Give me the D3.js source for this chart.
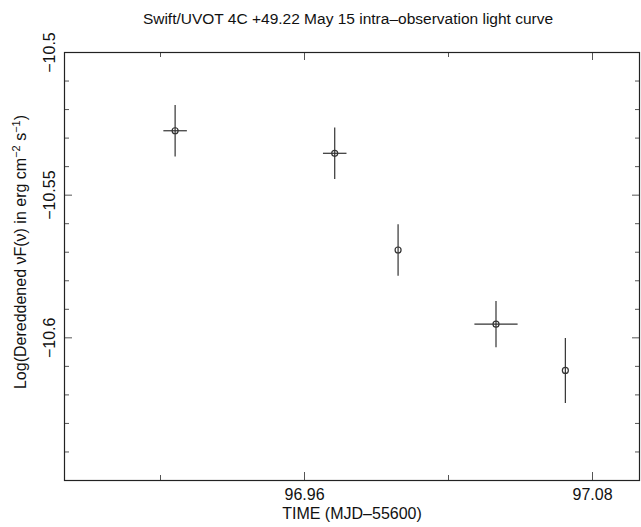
<!DOCTYPE html>
<html>
<head>
<meta charset="utf-8">
<script src="https://cdn.jsdelivr.net/npm/d3@7/dist/d3.min.js"></script>
<style>
  body { margin: 0; background: #fff; }
  svg { display: block; font-family: "Liberation Sans", Arial, sans-serif; }
  .axis path { display: none; }
  .axis line { stroke: #555; }
  .axis text { font-size: 16px; fill: #111; }
</style>
</head>
<body>
<svg id="chart" width="641" height="527"></svg>
<script>
// data
const times    = [96.9063, 96.9728, 96.9992, 97.0400, 97.0689];
const timeErr  = [0.0049, 0.0049, 0.0, 0.0090, 0.0];
const fluxes   = [-10.5276, -10.5355, -10.5694, -10.5954, -10.6116];
const fluxErr  = [0.0090, 0.0090, 0.0090, 0.0081, 0.0114];

const xMajorTicks = [96.96, 97.08];
const xMinorTicks = [96.90, 97.02];
const yMajorTicks = [-10.5, -10.55, -10.6];
const yMinorTicks = [-10.51, -10.52, -10.53, -10.54, -10.56, -10.57, -10.58, -10.59,
                     -10.61, -10.62, -10.63, -10.64];

const titleText = "Swift/UVOT 4C +49.22 May 15 intra\u2013observation light curve";
const xTitle = "TIME (MJD\u201355600)";

//----------------------------------------------------------------------------------------------------------------------
// dimensions
//----------------------------------------------------------------------------------------------------------------------
const svg = d3.select("#chart");
const margin = {top: 52, left: 64, right: 1, bottom: 47};
const width = 641, height = 527;
const plotW = width - margin.left - margin.right,
      plotH = height - margin.top - margin.bottom;

const x = d3.scaleLinear().domain([96.86, 97.10]).range([margin.left, margin.left + plotW]);
const y = d3.scaleLinear().domain([-10.65, -10.5]).range([margin.top + plotH, margin.top]);

const fmt = d => String(d).replace("-", "\u2212");

// axes: ticks point inward, on all four sides
function addAxis(axisFn, scale, ticks, size, tx, ty, labels, pad) {
    const a = axisFn(scale).tickValues(ticks).tickSizeInner(-size).tickSizeOuter(0);
    if (labels) a.tickFormat(fmt).tickPadding(pad); else a.tickFormat("");
    return svg.append("g")
        .attr("class", "axis")
        .attr("transform", "translate(" + tx + "," + ty + ")")
        .call(a);
}

const bottomY = margin.top + plotH, rightX = margin.left + plotW;

addAxis(d3.axisBottom, x, xMajorTicks, 8, 0, bottomY, true, 9);
addAxis(d3.axisBottom, x, xMinorTicks, 5, 0, bottomY, false);
addAxis(d3.axisTop, x, xMajorTicks, 8, 0, margin.top, false);
addAxis(d3.axisTop, x, xMinorTicks, 5, 0, margin.top, false);

const yLab = addAxis(d3.axisLeft, y, yMajorTicks, 8, margin.left, 0, true, 9);
yLab.selectAll("text")
    .attr("transform", function() {
        return "rotate(-90," + d3.select(this).attr("x") + ",0)";
    })
    .attr("text-anchor", "middle")
    .attr("dy", "0");
addAxis(d3.axisLeft, y, yMinorTicks, 5, margin.left, 0, false);
addAxis(d3.axisRight, y, yMajorTicks, 8, rightX, 0, false);
addAxis(d3.axisRight, y, yMinorTicks, 5, rightX, 0, false);

// frame
svg.append("rect")
    .attr("x", margin.left + 0.5)
    .attr("y", margin.top + 0.5)
    .attr("width", plotW - 1)
    .attr("height", plotH)
    .attr("fill", "none")
    .attr("stroke", "#222")
    .attr("stroke-width", 1.2);

// error bars and markers
const pts = times.map((t, i) => ({t: t, te: timeErr[i], f: fluxes[i], fe: fluxErr[i]}));
const g = svg.append("g").attr("stroke", "#333").attr("stroke-width", 1.2).attr("fill", "none");

g.selectAll(".ev").data(pts).enter().append("line")
    .attr("x1", d => x(d.t)).attr("x2", d => x(d.t))
    .attr("y1", d => y(d.f - d.fe)).attr("y2", d => y(d.f + d.fe));
g.selectAll(".eh").data(pts.filter(d => d.te > 0)).enter().append("line")
    .attr("x1", d => x(d.t - d.te)).attr("x2", d => x(d.t + d.te))
    .attr("y1", d => y(d.f)).attr("y2", d => y(d.f));
g.selectAll("circle").data(pts).enter().append("circle")
    .attr("cx", d => x(d.t)).attr("cy", d => y(d.f))
    .attr("r", 3);

// titles
svg.append("text")
    .attr("x", 348).attr("y", 24)
    .attr("text-anchor", "middle")
    .attr("font-size", 15.5)
    .attr("fill", "#111")
    .text(titleText);

svg.append("text")
    .attr("x", margin.left + plotW / 2).attr("y", 519)
    .attr("text-anchor", "middle")
    .attr("font-size", 16)
    .attr("fill", "#111")
    .text(xTitle);

const yt = svg.append("text")
    .attr("transform", "translate(26,252) rotate(-90)")
    .attr("text-anchor", "middle")
    .attr("font-size", 16)
    .attr("fill", "#111");
yt.append("tspan").text("Log(Dereddened \u03bdF(\u03bd) in erg cm");
yt.append("tspan").attr("dy", -6).attr("font-size", 11).text("\u22122");
yt.append("tspan").attr("dy", 6).text(" s");
yt.append("tspan").attr("dy", -6).attr("font-size", 11).text("\u22121");
yt.append("tspan").attr("dy", 6).text(")");
</script>
</body>
</html>
